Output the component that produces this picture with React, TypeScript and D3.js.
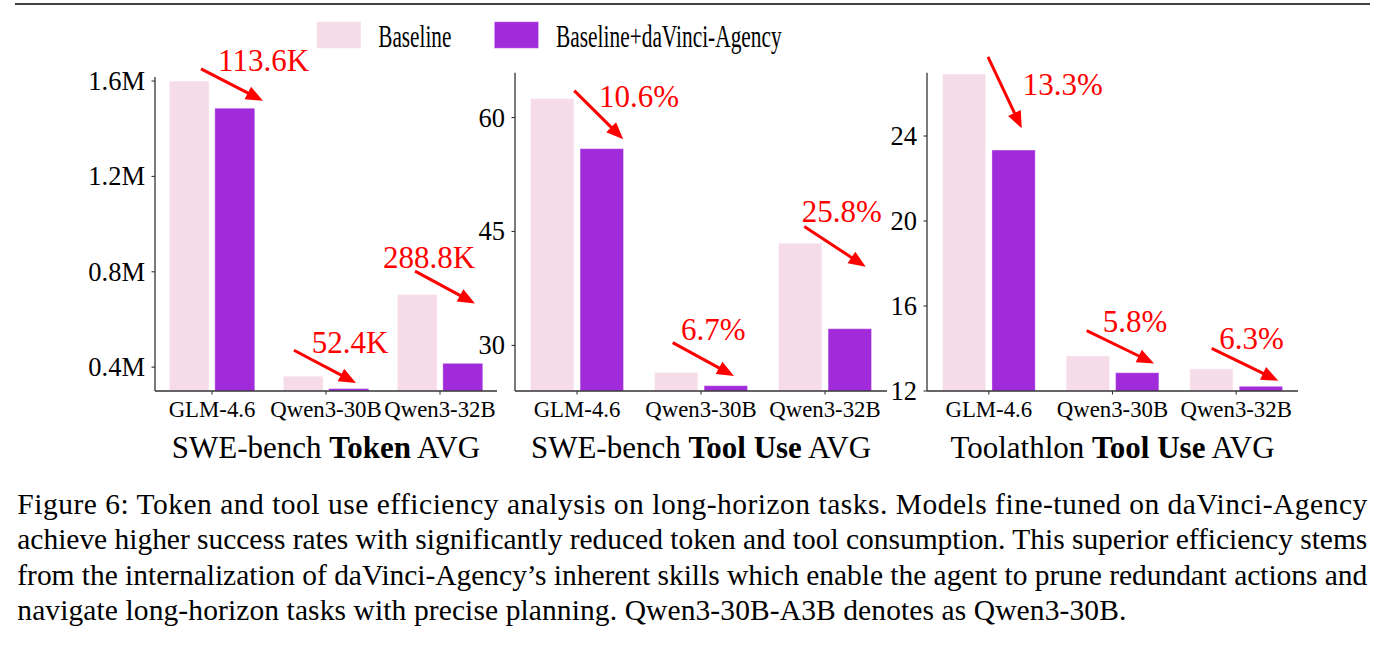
import React from "react";
import * as d3 from "d3";

const categories = ["GLM-4.6", "Qwen3-30B", "Qwen3-32B"];
const seriesNames = ["Baseline", "Baseline+daVinci-Agency"];

// values
const tokenBaseline = [1.6, 0.362, 0.705];
const tokenAgency = [1.486, 0.31, 0.416];
const sweToolBaseline = [62.5, 26.45, 43.47];
const sweToolAgency = [55.9, 24.7, 32.2];
const toolathlonBaseline = [26.92, 13.65, 13.04];
const toolathlonAgency = [23.34, 12.86, 12.22];

const tokenTicks = [0.4, 0.8, 1.2, 1.6];
const sweToolTicks = [30, 45, 60];
const toolathlonTicks = [12, 16, 20, 24];

const tokenLabels = ["113.6K", "52.4K", "288.8K"];
const sweToolLabels = ["10.6%", "6.7%", "25.8%"];
const toolathlonLabels = ["13.3%", "5.8%", "6.3%"];

// annotation anchors in data units: [category index, value]
const tokenArrowFrom = [[-0.096, 1.651], [0.719, 0.471], [1.781, 0.803]];
const tokenArrowTo = [[0.447, 1.517], [1.263, 0.334], [2.307, 0.667]];
const tokenText = [[0.053, 1.643], [0.875, 0.46], [1.5, 0.814]];
const sweArrowFrom = [[-0.022, 63.54], [0.772, 30.36], [1.833, 45.67]];
const sweArrowTo = [[0.373, 57.15], [1.266, 25.97], [2.328, 40.34]];
const sweText = [[0.177, 61.44], [0.839, 30.66], [1.812, 46.25]];
const toolArrowFrom = [[-0.007, 27.72], [0.791, 14.84], [1.802, 14.01]];
const toolArrowTo = [[0.266, 24.36], [1.336, 13.3], [2.341, 12.48]];
const toolText = [[0.274, 25.93], [0.921, 14.76], [1.864, 13.96]];

const captionLines = [
  "Figure 6: Token and tool use efficiency analysis on long-horizon tasks. Models fine-tuned on daVinci-Agency",
  "achieve higher success rates with significantly reduced token and tool consumption. This superior efficiency stems",
  "from the internalization of daVinci-Agency\u2019s inherent skills which enable the agent to prune redundant actions and",
  "navigate long-horizon tasks with precise planning. Qwen3-30B-A3B denotes as Qwen3-30B.",
];

const FONT = "'Liberation Serif', 'Times New Roman', serif";
const PINK = "#f6dbe9";
const PURPLE = "#a12adb";
const RED = "#ff0000";
const AXIS = "#333";

const panels = [
  {
    title: ["SWE-bench ", "Token", " AVG"],
    base: tokenBaseline, agency: tokenAgency, ticks: tokenTicks,
    fmt: (v: number) => `${v}M`,
    yDomain: [0.3, 1.617], xRange: [155, 497], top: 77,
    labels: tokenLabels, from: tokenArrowFrom, to: tokenArrowTo, text: tokenText,
  },
  {
    title: ["SWE-bench ", "Tool Use", " AVG"],
    base: sweToolBaseline, agency: sweToolAgency, ticks: sweToolTicks,
    fmt: (v: number) => `${v}`,
    yDomain: [24, 65.9], xRange: [515, 887], top: 72.7,
    labels: sweToolLabels, from: sweArrowFrom, to: sweArrowTo, text: sweText,
  },
  {
    title: ["Toolathlon ", "Tool Use", " AVG"],
    base: toolathlonBaseline, agency: toolathlonAgency, ticks: toolathlonTicks,
    fmt: (v: number) => `${v}`,
    yDomain: [12, 26.98], xRange: [927, 1298], top: 72.7,
    labels: toolathlonLabels, from: toolArrowFrom, to: toolArrowTo, text: toolText,
  },
];

const BOTTOM = 391;

function Arrow({ p0, p1 }: { p0: number[]; p1: number[] }) {
  const dx = p1[0] - p0[0];
  const dy = p1[1] - p0[1];
  const len = Math.hypot(dx, dy);
  const ux = dx / len, uy = dy / len;
  const hl = 17, hw = 7;
  const bx = p1[0] - ux * hl, by = p1[1] - uy * hl;
  const pts = [
    [p1[0], p1[1]],
    [bx - uy * hw, by + ux * hw],
    [bx + uy * hw, by - ux * hw],
  ];
  return (
    <g>
      <line x1={p0[0]} y1={p0[1]} x2={bx + ux * 3} y2={by + uy * 3} stroke={RED} strokeWidth={3} />
      <polygon points={pts.map((p) => p.join(",")).join(" ")} fill={RED} />
    </g>
  );
}

function Panel({ p }: { p: (typeof panels)[number] }) {
  const x = d3.scaleLinear().domain([-0.5, 2.5]).range(p.xRange);
  const y = d3.scaleLinear().domain(p.yDomain).range([BOTTOM, p.top]);
  const band = x(1) - x(0);
  const bw = band * 0.35;
  const left = p.xRange[0];
  const right = p.xRange[1];
  return (
    <g>
      {categories.map((c, i) => (
        <g key={c}>
          <rect x={x(i - 0.2) - bw / 2} y={y(p.base[i])} width={bw} height={BOTTOM - y(p.base[i])}
            fill={PINK} stroke="#fff" strokeOpacity={0.5} strokeWidth={1} />
          <rect x={x(i + 0.2) - bw / 2} y={y(p.agency[i])} width={bw} height={BOTTOM - y(p.agency[i])}
            fill={PURPLE} stroke="#fff" strokeOpacity={0.35} strokeWidth={1} />
        </g>
      ))}
      {/* spines */}
      <line x1={left} y1={p.top} x2={left} y2={BOTTOM} stroke={AXIS} strokeWidth={1.3} />
      <line x1={left} y1={BOTTOM} x2={right} y2={BOTTOM} stroke={AXIS} strokeWidth={1.3} />
      {p.ticks.map((t) => (
        <g key={t}>
          <line x1={left - 3.5} x2={left} y1={y(t)} y2={y(t)} stroke={AXIS} strokeWidth={1.1} />
          <text x={left - 10} y={y(t)} dy="0.34em" textAnchor="end" fontFamily={FONT} fontSize={26.5} fill="#000">
            {p.fmt(t)}
          </text>
        </g>
      ))}
      {categories.map((c, i) => (
        <g key={c}>
          <line x1={x(i)} x2={x(i)} y1={BOTTOM} y2={BOTTOM + 3.5} stroke={AXIS} strokeWidth={1.1} />
          <text x={x(i)} y={416.5} textAnchor="middle" fontFamily={FONT} fontSize={22.8} fill="#000">
            {c}
          </text>
        </g>
      ))}
      <text x={(left + right) / 2} y={458} textAnchor="middle" fontFamily={FONT} fontSize={31} fill="#000">
        <tspan>{p.title[0]}</tspan>
        <tspan fontWeight="bold">{p.title[1]}</tspan>
        <tspan>{p.title[2]}</tspan>
      </text>
      {p.labels.map((l, i) => (
        <g key={l}>
          <Arrow p0={[x(p.from[i][0]), y(p.from[i][1])]} p1={[x(p.to[i][0]), y(p.to[i][1])]} />
          <text x={x(p.text[i][0])} y={y(p.text[i][1])} fontFamily={FONT} fontSize={31} fill={RED}>
            {l}
          </text>
        </g>
      ))}
    </g>
  );
}

export default function App() {
  const legendX = [316.7, 494.3];
  const legendTextX = [378.3, 556];
  const legendTextW = [73, 225.7];
  return (
    <svg width={1385} height={648} style={{ position: "absolute", left: 0, top: 0, background: "#fff" }}>
      <rect width={1385} height={648} fill="#fff" />
      <line x1={15} x2={1370} y1={4} y2={4} stroke="#000" strokeWidth={1.6} />
      {seriesNames.map((s, i) => (
        <g key={s}>
          <rect x={legendX[i]} y={21.7} width={44.3} height={26.6} fill={i === 0 ? PINK : PURPLE}
            stroke="#fff" strokeOpacity={0.4} strokeWidth={1} />
          <text x={legendTextX[i]} y={47} fontFamily={FONT} fontSize={32} fill="#000"
            textLength={legendTextW[i]} lengthAdjust="spacingAndGlyphs">
            {s}
          </text>
        </g>
      ))}
      {panels.map((p, i) => (
        <Panel key={i} p={p} />
      ))}
      {captionLines.map((line, i) => (
        <text key={i} x={17.3} y={514 + i * 35.4} fontFamily={FONT} fontSize={29.5} fill="#000"
          textLength={i < 3 ? 1350 : 1109} lengthAdjust="spacing">
          {line}
        </text>
      ))}
    </svg>
  );
}
